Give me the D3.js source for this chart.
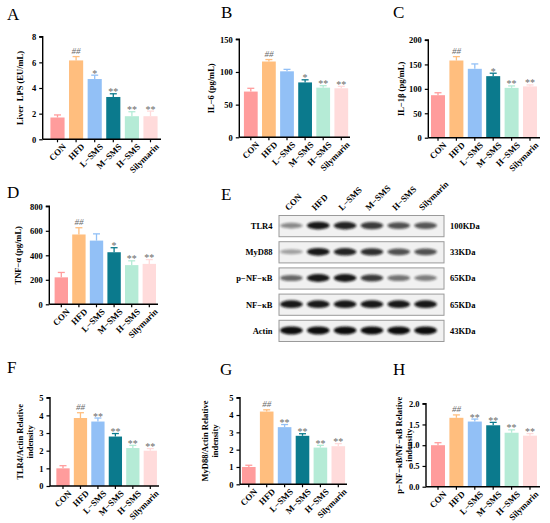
<!DOCTYPE html>
<html>
<head>
<meta charset="utf-8">
<script src="https://d3js.org/d3.v7.min.js"></script>
<style>
  body { margin: 0; background: #fff; }
  text { font-family: "Liberation Serif", "Times New Roman", serif; }
</style>
</head>
<body>
<svg id="fig" width="550" height="523"></svg>
<script>
// ---- data ----
const groups = ["CON", "HFD", "L\u2212SMS", "M\u2212SMS", "H\u2212SMS", "Silymarin"];
const groupColors = ["#ff9c9c", "#ffbe7e", "#92c0f6", "#0b7a8d", "#b5ebd6", "#ffdbdb"];

const lpsMean = [1.7, 6.15, 4.7, 3.3, 1.8, 1.8];
const lpsErr = [0.2, 0.3, 0.3, 0.25, 0.35, 0.4];
const lpsSig = ["", "##", "*", "**", "**", "**"];

const il6Mean = [70, 116, 101, 84, 76, 75];
const il6Err = [5, 3, 3, 4, 3, 3];
const il6Sig = ["", "##", "", "*", "**", "**"];

const il1bMean = [87, 158, 141, 126, 102, 105];
const il1bErr = [5, 8, 10, 6, 4, 3];
const il1bSig = ["", "##", "", "*", "**", "**"];

const tnfMean = [220, 570, 520, 425, 320, 330];
const tnfErr = [40, 55, 55, 37, 35, 35];
const tnfSig = ["", "##", "", "*", "**", "**"];

const tlr4Mean = [1.0, 3.85, 3.65, 2.8, 2.15, 2.0];
const tlr4Err = [0.15, 0.3, 0.2, 0.17, 0.15, 0.12];
const tlr4Sig = ["", "##", "**", "**", "**", "**"];

const myd88Mean = [1.0, 4.2, 3.3, 2.8, 2.12, 2.2];
const myd88Err = [0.1, 0.1, 0.15, 0.12, 0.13, 0.15];
const myd88Sig = ["", "##", "**", "**", "**", "**"];

const pnfMean = [1.0, 1.66, 1.57, 1.48, 1.3, 1.23];
const pnfErr = [0.06, 0.07, 0.06, 0.07, 0.07, 0.05];
const pnfSig = ["", "##", "**", "**", "**", "**"];

// western blot rows: name, size, band darkness per lane
const blotRows = ["TLR4", "MyD88", "p\u2212NF\u2212\u03baB", "NF\u2212\u03baB", "Actin"];
const blotSizes = ["100KDa", "33KDa", "65KDa", "65KDa", "43KDa"];
const blotBands = [
  [0.45, 0.95, 0.9, 0.8, 0.7, 0.68],
  [0.35, 0.95, 0.9, 0.85, 0.7, 0.7],
  [0.6, 0.95, 0.95, 0.8, 0.55, 0.5],
  [0.95, 0.95, 0.95, 0.95, 0.95, 0.95],
  [1, 1, 1, 1, 1, 1]
];

// ---- layout of each bar panel ----
const panels = [
  {letter: "A", lx: 7, ly: 20, x0: 42.7, c0: 57.5, c5: 150.5, x1: 161, top: 36.7, bottom: 139.3,
   max: 8, step: 2, fmt: d3.format("d"), label: ["Liver  LPS (EU/mL)"], labX: 20,
   mean: lpsMean, err: lpsErr, sig: lpsSig},
  {letter: "B", lx: 221, ly: 18, x0: 239.3, c0: 250.8, c5: 341.3, x1: 350, top: 39.3, bottom: 137.3,
   max: 150, step: 50, fmt: d3.format("d"), label: ["IL\u22126 (pg/mL)"], labX: 211.5,
   mean: il6Mean, err: il6Err, sig: il6Sig},
  {letter: "C", lx: 393, ly: 18, x0: 428.3, c0: 438, c5: 530, x1: 540, top: 40, bottom: 137.7,
   max: 200, step: 50, fmt: d3.format("d"), label: ["IL\u22121\u03b2 (pg/mL)"], labX: 401.5,
   mean: il1bMean, err: il1bErr, sig: il1bSig},
  {letter: "D", lx: 7, ly: 198, x0: 49.3, c0: 61.3, c5: 149.3, x1: 158, top: 206.3, bottom: 304.3,
   max: 800, step: 200, fmt: d3.format("d"), label: ["TNF\u2212\u03b1 (pg/mL)"], labX: 18.5,
   mean: tnfMean, err: tnfErr, sig: tnfSig},
  {letter: "F", lx: 7, ly: 373, x0: 50, c0: 63, c5: 150.3, x1: 159, top: 397.7, bottom: 486,
   max: 5, step: 1, fmt: d3.format("d"), label: ["TLR4/Actin Relative", "indensity"], labX: 20,
   mean: tlr4Mean, err: tlr4Err, sig: tlr4Sig},
  {letter: "G", lx: 220, ly: 375, x0: 240, c0: 248.8, c5: 338.3, x1: 347, top: 397.7, bottom: 484.3,
   max: 5, step: 1, fmt: d3.format("d"), label: ["MyD88/Actin Relative", "indensity"], labX: 205,
   mean: myd88Mean, err: myd88Err, sig: myd88Sig},
  {letter: "H", lx: 393, ly: 375, x0: 426, c0: 438, c5: 530, x1: 540, top: 403.7, bottom: 486.7,
   max: 2, step: 0.5, fmt: d3.format(".1f"), label: ["p\u2212NF\u2212\u03baB/NF\u2212\u03baB Relative", "indensity"], labX: 399,
   mean: pnfMean, err: pnfErr, sig: pnfSig}
];

const svg = d3.select("#fig");

function drawPanel(p) {
  const g = svg.append("g");
  const st = (p.c5 - p.c0) / 5;
  const xs = d3.scaleBand().domain(groups).range([p.c0 - st / 2, p.c5 + st / 2]).paddingInner(0.24).paddingOuter(0.12);
  const ys = d3.scaleLinear().domain([0, p.max]).range([p.bottom, p.top]);
  const cx = i => xs(groups[i]) + xs.bandwidth() / 2;

  // bars
  g.selectAll("rect.bar").data(p.mean).enter().append("rect")
    .attr("x", (d, i) => xs(groups[i]))
    .attr("y", d => ys(d))
    .attr("width", xs.bandwidth())
    .attr("height", d => ys(0) - ys(d))
    .attr("fill", (d, i) => groupColors[i]);

  // error bars
  p.mean.forEach((m, i) => {
    const c = cx(i), yt = ys(m + p.err[i]);
    g.append("line").attr("x1", c).attr("x2", c).attr("y1", ys(m)).attr("y2", yt)
      .attr("stroke", groupColors[i]).attr("stroke-width", 1.3);
    g.append("line").attr("x1", c - 3.5).attr("x2", c + 3.5).attr("y1", yt).attr("y2", yt)
      .attr("stroke", groupColors[i]).attr("stroke-width", 1.3);
    const s = p.sig[i];
    if (s) {
      g.append("text").attr("x", c).attr("y", s === "##" ? yt - 2.5 : yt + 1.5)
        .attr("text-anchor", "middle").attr("fill", "#6a6a6a")
        .attr("font-size", s === "##" ? "9px" : "10px")
        .attr("font-style", s === "##" ? "italic" : "normal")
        .text(s);
    }
  });

  // y axis
  const yAxis = d3.axisLeft(ys).tickValues(d3.range(0, p.max + p.step / 2, p.step))
    .tickFormat(p.fmt).tickSize(3.5).tickPadding(3);
  const ya = g.append("g").attr("transform", `translate(${p.x0},0)`).call(yAxis);
  ya.select(".domain").attr("d", `M-3.5,${p.top}H0V${p.bottom}`).attr("stroke-width", 1.4);
  ya.selectAll(".tick line").attr("stroke-width", 1.2);
  ya.selectAll("text").attr("font-size", "8.5px").attr("font-weight", "bold")
    .attr("font-family", "'Liberation Serif', serif");

  // x axis
  const xa = g.append("g").attr("transform", `translate(0,${p.bottom})`);
  xa.append("line").attr("x1", p.x0).attr("x2", p.x1).attr("stroke", "#000").attr("stroke-width", 1.4);
  xa.selectAll("line.tk").data(groups).enter().append("line")
    .attr("x1", d => xs(d) + xs.bandwidth() / 2).attr("x2", d => xs(d) + xs.bandwidth() / 2)
    .attr("y1", 0).attr("y2", 3).attr("stroke", "#000").attr("stroke-width", 1.2);
  xa.selectAll("text").data(groups).enter().append("text")
    .attr("transform", d => `translate(${xs(d) + xs.bandwidth() / 2 + 9},${8}) rotate(-45)`)
    .attr("text-anchor", "end").attr("font-size", "8.8px").attr("font-weight", "bold")
    .text(d => d);

  // y label
  const lab = g.append("text")
    .attr("transform", `translate(${p.labX},${(p.top + p.bottom) / 2}) rotate(-90)`)
    .attr("text-anchor", "middle").attr("font-size", "8.5px").attr("font-weight", "bold")
    .style("white-space", "pre");
  p.label.forEach((t, k) => {
    lab.append("tspan").attr("x", 0).attr("dy", k === 0 ? "0.35em" : "1.2em").text(t);
  });

  // panel letter
  svg.append("text").attr("x", p.lx).attr("y", p.ly).attr("font-size", "17px").text(p.letter);
}

panels.forEach(drawPanel);

// ---- panel E: western blot ----
svg.append("text").attr("x", 221).attr("y", 200).attr("font-size", "17px").text("E");

const defs = svg.append("defs");
defs.append("filter").attr("id", "blur").attr("x", "-30%").attr("y", "-100%")
  .attr("width", "160%").attr("height", "300%")
  .append("feGaussianBlur").attr("stdDeviation", 1.1);

const lane = d3.scaleBand().domain(groups).range([280, 437]).paddingInner(0.15);
const row = d3.scaleBand().domain(blotRows).range([215.5, 341.5]).paddingInner(0.19);
const blotLeft = 279, blotRight = 444;

const eg = svg.append("g");
blotRows.forEach((r, ri) => {
  const y0 = row(r), h = row.bandwidth();
  eg.append("rect").attr("x", blotLeft).attr("y", y0).attr("width", blotRight - blotLeft).attr("height", h)
    .attr("fill", "#f1f1f1").attr("stroke", "#9a9a9a").attr("stroke-width", 1);
  blotBands[ri].forEach((v, li) => {
    const c = lane(groups[li]) + lane.bandwidth() / 2;
    eg.append("ellipse").attr("cx", c).attr("cy", y0 + h / 2 - 0.5)
      .attr("rx", lane.bandwidth() / 2).attr("ry", 1.8 + 2.2 * v)
      .attr("fill", "#111").attr("opacity", v).attr("filter", "url(#blur)");
  });
  eg.append("text").attr("x", 272.5).attr("y", y0 + h / 2).attr("dy", "0.35em")
    .attr("text-anchor", "end").attr("font-size", "8.5px").attr("font-weight", "bold").text(r);
  eg.append("text").attr("x", 450).attr("y", y0 + h / 2).attr("dy", "0.35em")
    .attr("font-size", "8.5px").attr("font-weight", "bold").text(blotSizes[ri]);
});

eg.selectAll("text.lane").data(groups).enter().append("text")
  .attr("transform", d => `translate(${lane(d) + lane.bandwidth() / 2 - 3},211) rotate(-45)`)
  .attr("font-size", "8.8px").attr("font-weight", "bold").text(d => d);
</script>
</body>
</html>
